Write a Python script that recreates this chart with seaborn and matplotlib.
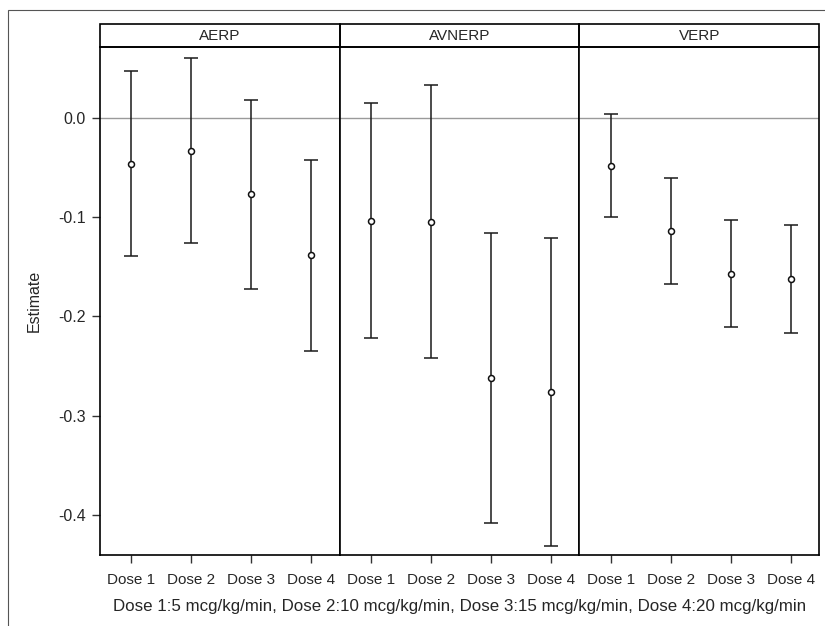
import numpy as np
import pandas as pd
import matplotlib
matplotlib.use("Agg")
import matplotlib.pyplot as plt
from matplotlib.patches import Rectangle
import seaborn as sns

measures = ["AERP", "AVNERP", "VERP"]
doses = ["Dose 1", "Dose 2", "Dose 3", "Dose 4"]

aerp_est = [-0.046, -0.033, -0.077, -0.138]
aerp_lo = [-0.139, -0.126, -0.172, -0.235]
aerp_hi = [0.047, 0.061, 0.018, -0.042]

avnerp_est = [-0.104, -0.105, -0.262, -0.276]
avnerp_lo = [-0.222, -0.242, -0.408, -0.431]
avnerp_hi = [0.015, 0.033, -0.116, -0.121]

verp_est = [-0.048, -0.114, -0.157, -0.162]
verp_lo = [-0.100, -0.167, -0.211, -0.217]
verp_hi = [0.004, -0.060, -0.103, -0.108]

yticks = [0.0, -0.1, -0.2, -0.3, -0.4]
ytick_labels = ["0.0", "-0.1", "-0.2", "-0.3", "-0.4"]
y_label = "Estimate"
x_note = "Dose 1:5 mcg/kg/min, Dose 2:10 mcg/kg/min, Dose 3:15 mcg/kg/min, Dose 4:20 mcg/kg/min"

rows = []
for m, est, lo, hi in [("AERP", aerp_est, aerp_lo, aerp_hi),
                       ("AVNERP", avnerp_est, avnerp_lo, avnerp_hi),
                       ("VERP", verp_est, verp_lo, verp_hi)]:
    for d, e, l, h in zip(doses, est, lo, hi):
        rows.append({"measure": m, "dose": d, "est": e, "lo": l, "hi": h})
df = pd.DataFrame(rows)

sns.set_theme(style="ticks")
plt.rcParams['font.family'] = ['Liberation Sans', 'DejaVu Sans']
plt.rcParams['axes.unicode_minus'] = False

W, H = 825, 626
g = sns.FacetGrid(df, col="measure", col_order=measures, sharex=True, sharey=True,
                  despine=False, height=5, aspect=0.5, gridspec_kws=dict(wspace=0))
fig = g.figure


def draw(data, **kws):
    ax = plt.gca()
    ax.axhline(0, color="#9a9a9a", lw=1.0, zorder=0)
    ax.errorbar(data["dose"], data["est"],
                yerr=[data["est"] - data["lo"], data["hi"] - data["est"]],
                fmt="o", mfc="white", mec="#111111", ms=4.3, mew=1.1,
                ecolor="#1a1a1a", elinewidth=1.1, capsize=4.8, capthick=1.1, zorder=3)


g.map_dataframe(draw)
g.set_titles("")

fig.set_size_inches(W / 100, H / 100)
fig.set_dpi(100)
fig.subplots_adjust(left=100 / W, right=819 / W, bottom=1 - 555 / H, top=1 - 47 / H, wspace=0)

ax_h = 555 - 47
strip_h = 23 / ax_h
for i, (ax, m) in enumerate(zip(g.axes.flat, measures)):
    ax.set_xlim(-0.525, 3.47)
    ax.set_ylim(-0.4405, 0.0716)
    ax.set_xlabel("")
    for sp in ax.spines.values():
        sp.set_color("black")
        sp.set_linewidth(1.2)
    ax.tick_params(axis="x", direction="out", length=6, width=1, color="#333333",
                   labelsize=11, pad=7)
    ax.tick_params(axis="y", direction="out", length=6, width=1, color="#333333",
                   labelsize=11.5, pad=4)
    ax.add_patch(Rectangle((0, 1), 1, strip_h, transform=ax.transAxes, clip_on=False,
                           fill=False, edgecolor="black", lw=1.2))
    ax.text(0.5, 1 + strip_h / 2, m, transform=ax.transAxes, ha="center", va="center",
            fontsize=11)
    if i == 0:
        ax.set_yticks(yticks)
        ax.set_yticklabels(ytick_labels)
        ax.set_ylabel(y_label, fontsize=11.5)
        ax.yaxis.set_label_coords((42 - 100) / 240, 0.5)
    else:
        ax.set_ylabel("")
        ax.tick_params(axis="y", left=False, labelleft=False)

fig.text(459.5 / W, 1 - 606 / H, x_note, ha="center", va="center", fontsize=12.2)

fig.patches.append(Rectangle((8 / W, -0.5), 2, 0.5 + (1 - 10 / H), transform=fig.transFigure,
                             fill=False, edgecolor="#555555", lw=0.8))

fig.savefig("out.png", dpi=100)
